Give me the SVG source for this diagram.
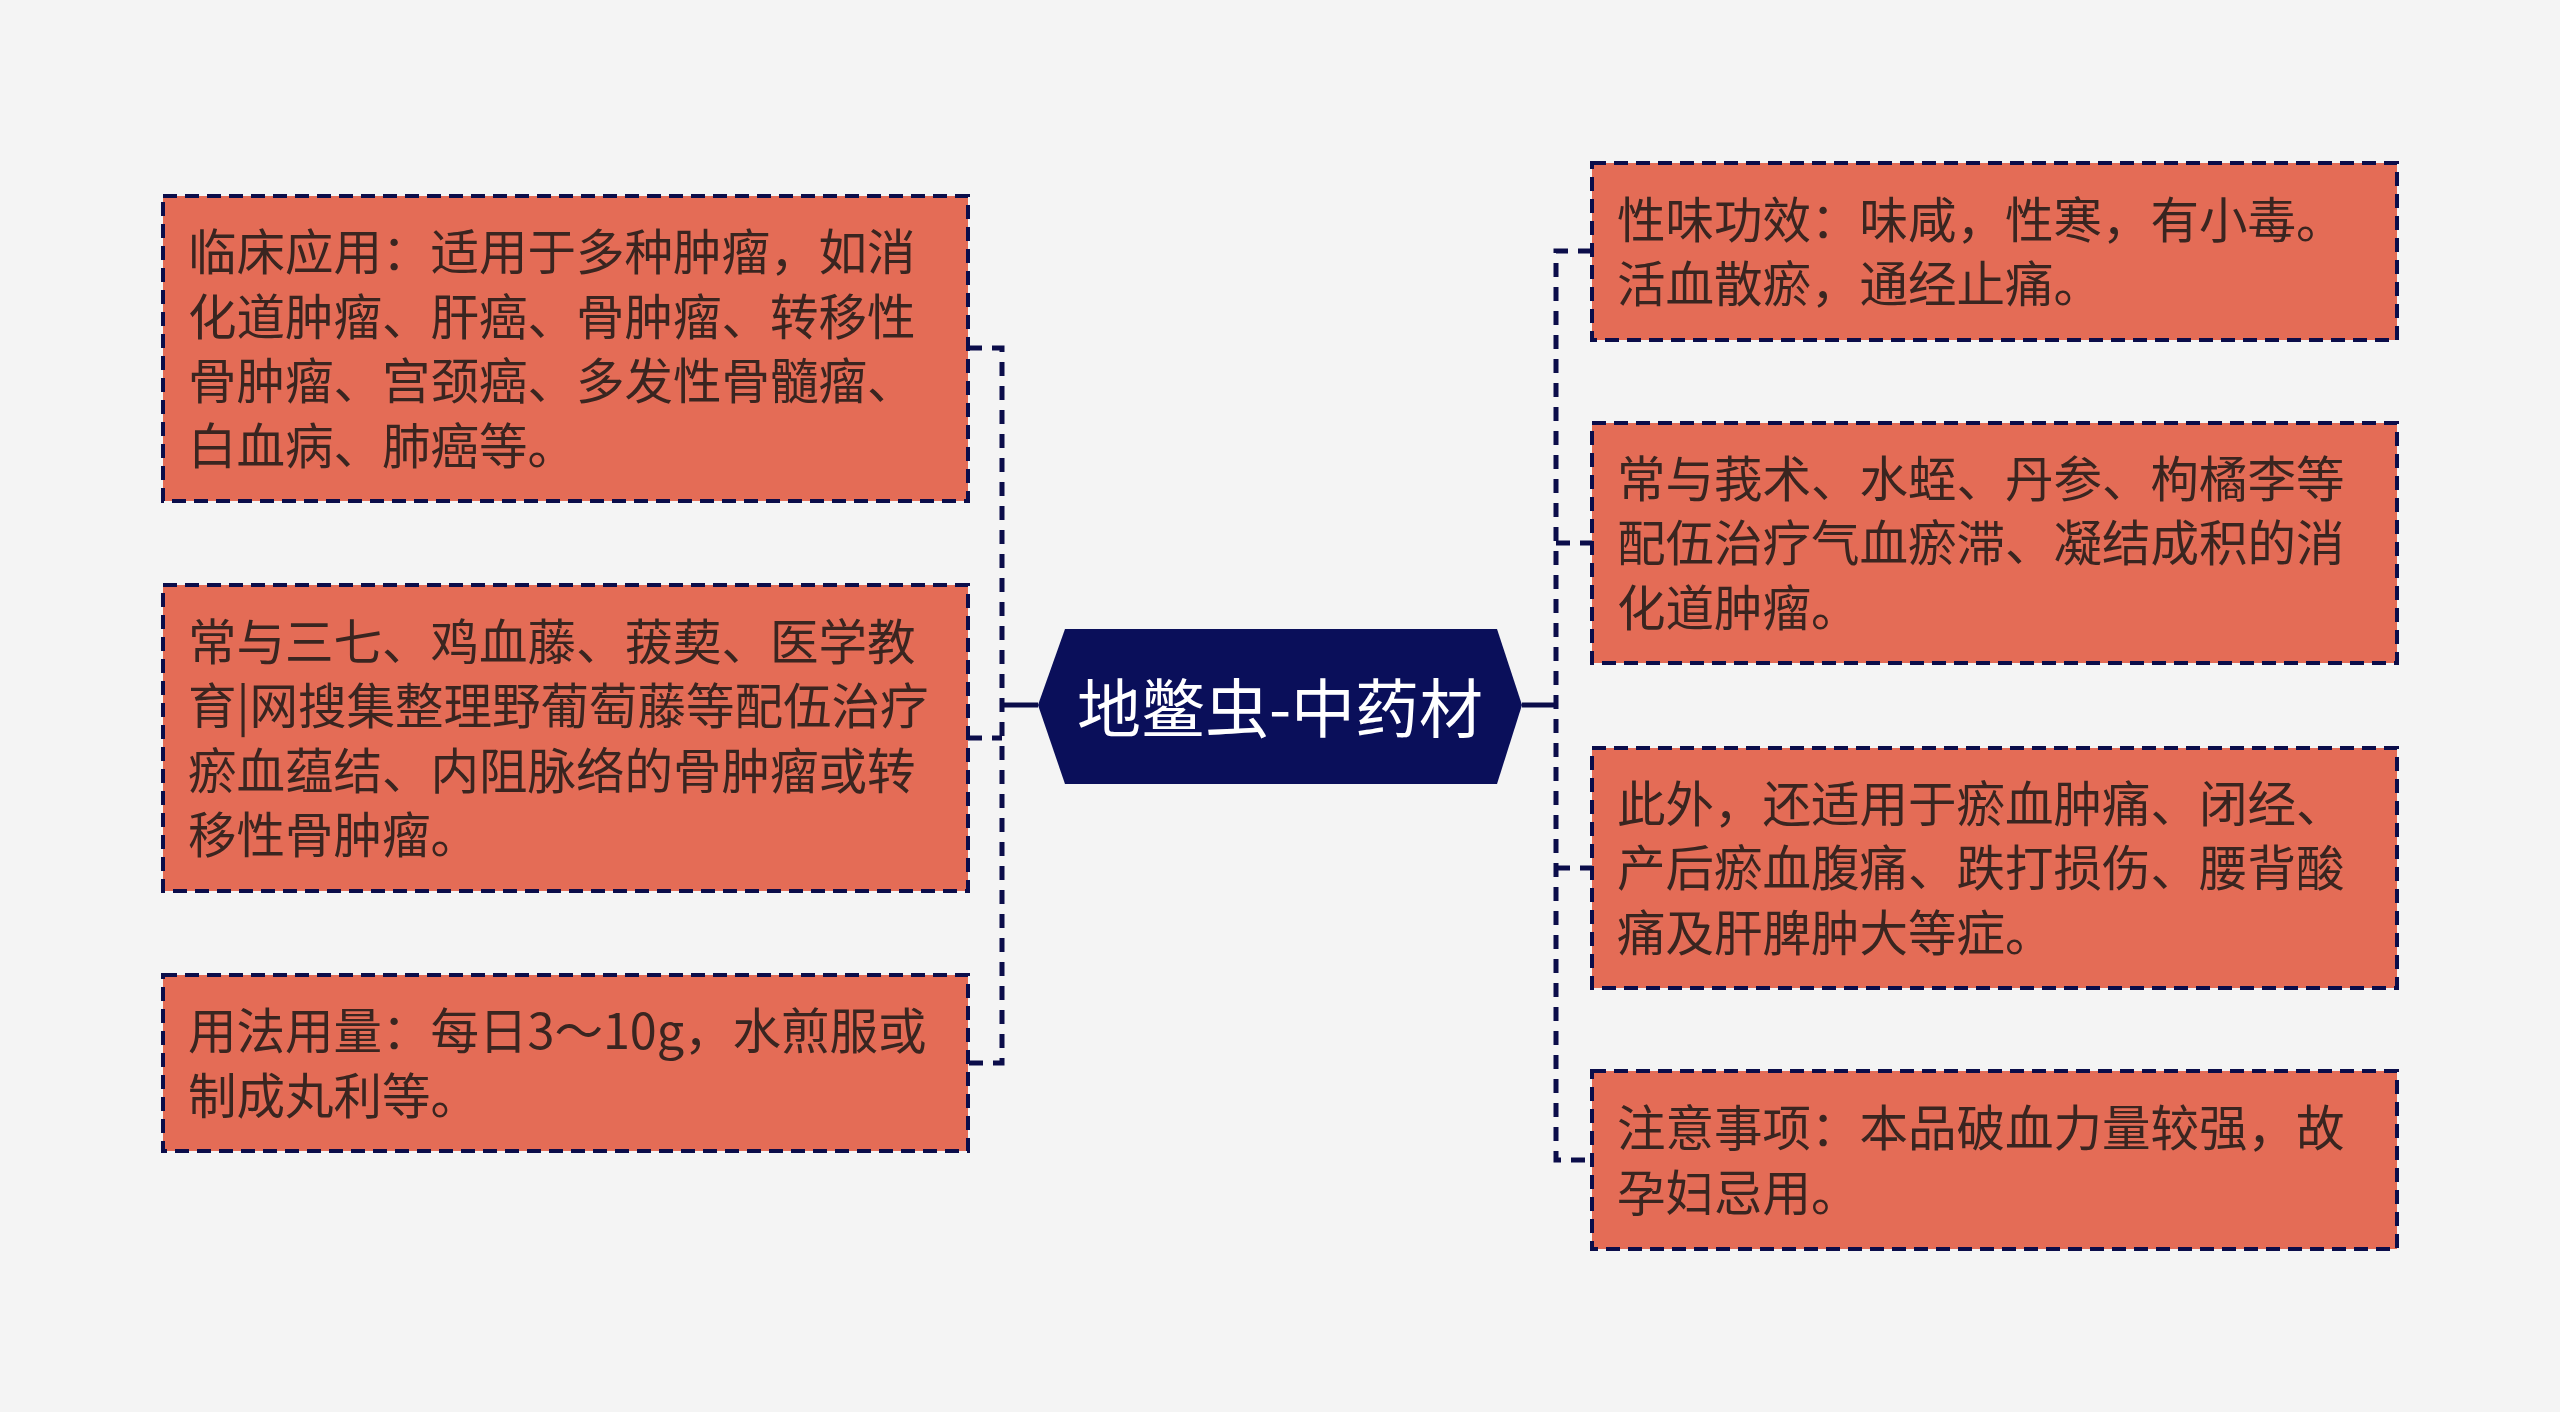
<svg xmlns="http://www.w3.org/2000/svg" width="2560" height="1412" viewBox="0 0 2560 1412">
<style>
.box{fill:#E46C56;stroke:#0B0D4A;stroke-width:4;stroke-dasharray:14 8}
.t{font-family:"Microsoft YaHei","Noto Sans CJK SC","Noto Sans",sans-serif;font-size:48.5px;fill:#3A2520;dominant-baseline:central}
.c{font-family:"Microsoft YaHei","Noto Sans CJK SC","Noto Sans",sans-serif;font-size:64px;fill:#FFFFFF;dominant-baseline:central;text-anchor:middle}
.ln{fill:none;stroke:#0B0D4A;stroke-width:5;stroke-dasharray:14 10}
.sl{fill:none;stroke:#0B0D4A;stroke-width:5}
</style>
<rect width="2560" height="1412" fill="#F4F4F4"/>
<g id="connectors">
<path class="sl" d="M1038,705 H1002"/>
<path class="ln" d="M968,348 H1002 V1063 H968"/>
<path class="ln" d="M968,738 H1002"/>
<path class="sl" d="M1522,705 H1556"/>
<path class="ln" d="M1592,251 H1556 V1160 H1592"/>
<path class="ln" d="M1556,543 H1592"/>
<path class="ln" d="M1556,868 H1592"/>
</g>
<g id="center">
<polygon points="1038,705 1065,629 1497,629 1522,705 1497,784 1065,784" fill="#0A0F5A"/>
<text class="c" x="1280" y="704">地鳖虫-中药材</text>
</g>
<g id="left1">
<rect class="box" x="163" y="196" width="805" height="305"/>
<text class="t" x="188" y="249">临床应用：适用于多种肿瘤，如消</text>
<text class="t" x="188" y="313.5">化道肿瘤、肝癌、骨肿瘤、转移性</text>
<text class="t" x="188" y="378">骨肿瘤、宫颈癌、多发性骨髓瘤、</text>
<text class="t" x="188" y="442.5">白血病、肺癌等。</text>
</g>
<g id="left2">
<rect class="box" x="163" y="585" width="805" height="306"/>
<text class="t" x="188" y="638.5">常与三七、鸡血藤、菝葜、医学教</text>
<text class="t" x="188" y="703">育|网搜集整理野葡萄藤等配伍治疗</text>
<text class="t" x="188" y="767.5">瘀血蕴结、内阻脉络的骨肿瘤或转</text>
<text class="t" x="188" y="832">移性骨肿瘤。</text>
</g>
<g id="left3">
<rect class="box" x="163" y="975" width="805" height="176"/>
<text class="t" x="188" y="1028">用法用量：每日3～10g，水煎服或</text>
<text class="t" x="188" y="1092.5">制成丸利等。</text>
</g>
<g id="right1">
<rect class="box" x="1592" y="163" width="805" height="177"/>
<text class="t" x="1617" y="216.5">性味功效：味咸，性寒，有小毒。</text>
<text class="t" x="1617" y="281">活血散瘀，通经止痛。</text>
</g>
<g id="right2">
<rect class="box" x="1592" y="423" width="805" height="240"/>
<text class="t" x="1617" y="475.5">常与莪术、水蛭、丹参、枸橘李等</text>
<text class="t" x="1617" y="540">配伍治疗气血瘀滞、凝结成积的消</text>
<text class="t" x="1617" y="604.5">化道肿瘤。</text>
</g>
<g id="right3">
<rect class="box" x="1592" y="748" width="805" height="240"/>
<text class="t" x="1617" y="800.5">此外，还适用于瘀血肿痛、闭经、</text>
<text class="t" x="1617" y="865">产后瘀血腹痛、跌打损伤、腰背酸</text>
<text class="t" x="1617" y="929.5">痛及肝脾肿大等症。</text>
</g>
<g id="right4">
<rect class="box" x="1592" y="1071" width="805" height="178"/>
<text class="t" x="1617" y="1125">注意事项：本品破血力量较强，故</text>
<text class="t" x="1617" y="1189.5">孕妇忌用。</text>
</g>
</svg>
